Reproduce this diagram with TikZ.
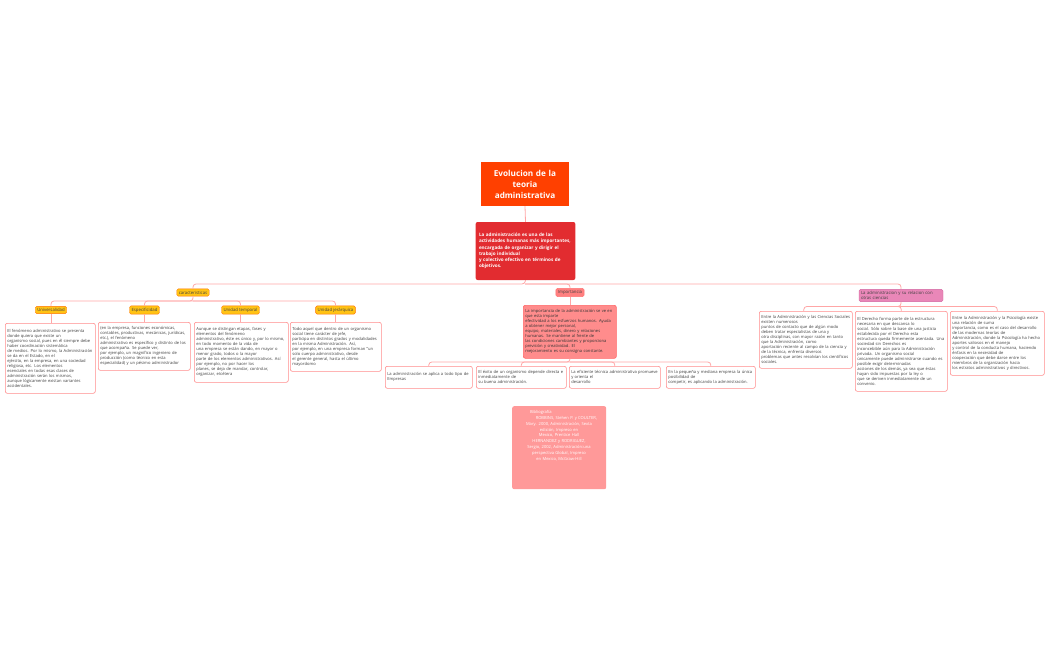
\documentclass[tikz,border=0pt]{standalone}
\usepackage{fontspec}
\setmainfont{Open Sans}
\hyphenpenalty=10000 \exhyphenpenalty=10000
\begin{document}
\begin{tikzpicture}[x=1pt,y=-1pt,
  conn/.style={draw=red!35,line width=0.8pt,rounded corners=3pt},
  tbox/.style={draw=red!45,line width=0.6pt,rounded corners=2pt,fill=white,anchor=north west,align=left,font=\fontsize{4.1}{5}\selectfont,inner sep=2pt,text=black!75},
  yel/.style={fill={rgb,255:red,255;green,195;blue,20},draw=orange!90!red,rounded corners=1.5pt,font=\fontsize{4.3}{5}\selectfont,inner sep=2pt,text=black!75},
  pinkb/.style={fill=red!50!white,draw=red!55,rounded corners=1.5pt,font=\fontsize{4.3}{5}\selectfont,inner sep=2pt,text=black!75}]
\useasboundingbox (0,0) rectangle (1050,650);
\node[fill={rgb,255:red,255;green,64;blue,0},minimum width=86pt,minimum height=44pt,text width=82pt,align=center,text=white,font=\bfseries\fontsize{8.2}{11}\selectfont] (title) at (525,184) {Evolucion de la\\ teoria\\ administrativa};
\node[fill={rgb,255:red,226;green,44;blue,48},rounded corners=2pt,minimum width=99pt,minimum height=58pt,text width=93pt,align=left,text=white,font=\bfseries\fontsize{4.6}{6.3}\selectfont] (main) at (525.5,251) {La administración es una de las actividades humanas más importantes, encargada de organizar y dirigir el trabajo individual\\ y colectivo efectivo en términos de objetivos.};
\node[yel] (car) at (193,292.5) {caracteristicas};
\node[pinkb] (imp) at (570,292.5) {Importancia};
\node[fill={rgb,255:red,233;green,135;blue,184},draw={rgb,255:red,210;green,100;blue,160},rounded corners=1.5pt,font=\fontsize{4.3}{5}\selectfont,text width=80pt,align=left,inner sep=2pt,text=black!75] (rel) at (901,295.5) {La administracion y su relacion con otras ciencias};
\coordinate (mb) at (525,284);
\draw[conn] (title.south) -- (main.north);
\draw[conn] (main.south) -- (mb) -| (car.north);
\draw[conn] (mb) -| (imp.north);
\draw[conn] (mb) -| (rel.north);
% caracteristicas
\node[yel] (uni) at (51,310) {Universalidad};
\node[yel] (esp) at (144.5,310) {Especificidad};
\node[yel] (tem) at (240.5,310) {Unidad temporal};
\node[yel] (jer) at (335.5,310) {Unidad jerárquica};
\coordinate (cb) at (193,301);
\draw[conn] (car.south) -- (cb) -| (uni.north);
\draw[conn] (cb) -| (esp.north);
\draw[conn] (cb) -| (tem.north);
\draw[conn] (cb) -| (jer.north);
\node[tbox,text width=86pt,minimum height=70pt] (t1) at (5,323) {El fenómeno administrativo se presenta donde quiera que existe un\\ organismo social, pues en él siempre debe haber coordinación sistemática\\ de medios. Por lo mismo, la Administración se da en el Estado, en el\\ ejército, en la empresa, en una sociedad religiosa, etc. Los elementos\\ esenciales en todas esas clases de administración serán los mismos,\\ aunque lógicamente existan variantes accidentales.};
\node[tbox,text width=88pt,minimum height=48pt] (t2) at (98,322) {(en la empresa, funciones económicas, contables, productivas, mecánicas, jurídicas, etc.), el fenómeno\\ administrativo es específico y distinto de los que acompaña. Se puede ver,\\ por ejemplo, un magnífico ingeniero de producción (como técnico en esta\\ especialidad) y un pésimo administrador};
\node[tbox,text width=90pt,minimum height=60pt] (t3) at (194,322) {Aunque se distingan etapas, fases y elementos del fenómeno\\ administrativo, éste es único y, por lo mismo, en todo momento de la vida de\\ una empresa se están dando, en mayor o menor grado, todos o la mayor\\ parte de los elementos administrativos. Así por ejemplo, no por hacer los\\ planes, se deja de mandar, controlar, organizar, etcétera};
\node[tbox,text width=87pt,minimum height=49pt] (t4) at (290,322) {Todo aquel que dentro de un organismo social tiene carácter de jefe,\\ participa en distintos grados y modalidades en la misma Administración. Así,\\ por ejemplo, en una empresa forman "un solo cuerpo administrativo, desde\\ el gerente general, hasta el último mayordomo};
\foreach \a/\b in {uni/t1,esp/t2,tem/t3,jer/t4} \draw[conn] (\a.south) -- (\a.south |- \b.north);
% importancia
\node[tbox,fill={rgb,255:red,255;green,140;blue,140},draw=red!60,text width=89pt,minimum height=53pt,text=black!80] (idesc) at (523,305) {La importancia de la administración se ve en que esta imparte\\ efectividad a los esfuerzos humanos. Ayuda a obtener mejor personal,\\ equipo, materiales, dinero y relaciones humanas. Se mantiene al frente de\\ las condiciones cambiantes y proporciona previsión y creatividad. El\\ mejoramiento es su consigna constante.};
\draw[conn] (imp.south) -- (imp.south |- idesc.north);
\node[tbox,text width=83pt,minimum height=22pt] (i1) at (385,366) {La administración se aplica a todo tipo de Empresas};
\node[tbox,text width=86pt,minimum height=22pt] (i2) at (476,366) {El éxito de un organismo depende directa e inmediatamente de\\ su buena administración.};
\node[tbox,text width=87pt,minimum height=22pt] (i3) at (569,366) {La eficiente técnica administrativa promueve y orienta el\\ desarrollo};
\node[tbox,text width=85pt,minimum height=22pt] (i4) at (666,366) {En la pequeña y mediana empresa la única posibilidad de\\ competir, es aplicando la administración.};
\coordinate (ib) at (570,362);
\draw[conn] (idesc.south -| ib) -- (ib) -| (i1.north);
\draw[conn] (ib) -| (i2.north);
\draw[conn] (ib) -| (i3.north);
\draw[conn] (ib) -| (i4.north);
\node[fill={rgb,255:red,255;green,153;blue,153},rounded corners=2pt,minimum width=94pt,minimum height=83pt,anchor=north west] (bib) at (512,406) {};
\node[anchor=north,text width=76pt,align=center,text=white,font=\fontsize{4.1}{5.9}\selectfont,inner sep=0pt] (bibt) at (559,410) {\makebox[58pt][l]{Bibliografía}\\ \hfill ROBBINS, Stehen P. y COULTER, Mary. 2000, Administración, Sexta\\ edición, Impreso en Mexico, Prentice Hall\\ HERNANDEZ y RODRIGUEZ, Sergio, 2002, Administración:una perspectiva Global, Impreso en Mexico, McGraw-Hill};
% relacion
\node[tbox,text width=89pt,minimum height=57pt] (r1) at (759,311) {Entre la Administración y las Ciencias Sociales existen numerosos\\ puntos de contacto que de algún modo deben tratar especialistas de una y\\ otra disciplinas, con mayor razón en tanto que la Administración, como\\ aportación reciente al campo de la ciencia y de la técnica, enfrenta diversos\\ problemas que antes resolvían los científicos sociales.};
\node[tbox,text width=88pt,minimum height=80pt] (r2) at (855,311) {El Derecho forma parte de la estructura necesaria en que descansa lo\\ social. Sólo sobre la base de una justicia establecida por el Derecho esta\\ estructura queda firmemente asentada. Una sociedad sin Derechos es\\ inconcebible aún para la Administración privada. Un organismo social\\ únicamente puede administrarse cuando es posible exigir determinadas\\ acciones de los demás, ya sea que éstas hayan sido impuestas por la ley o\\ que se deriven inmediatamente de un convenio.};
\node[tbox,text width=90pt,minimum height=64pt] (r3) at (950,311) {Entre la Administración y la Psicología existe una relación de suma\\ importancia, como es el caso del desarrollo de las modernas teorías de\\ Administración, donde la Psicología ha hecho aportes valiosos en el manejo\\ y control de la conducta humana, haciendo énfasis en la necesidad de\\ cooperación que debe darse entre los miembros de la organización hacia\\ los estratos administrativos y directivos.};
\coordinate (rb) at (901,306.5);
\draw[conn] (rel.south) -- (rb) -| ([xshift=-2pt]r1.north);
\draw[conn] (rb) -| (r2.north);
\draw[conn] (rb) -| (r3.north);
\end{tikzpicture}
\end{document}
